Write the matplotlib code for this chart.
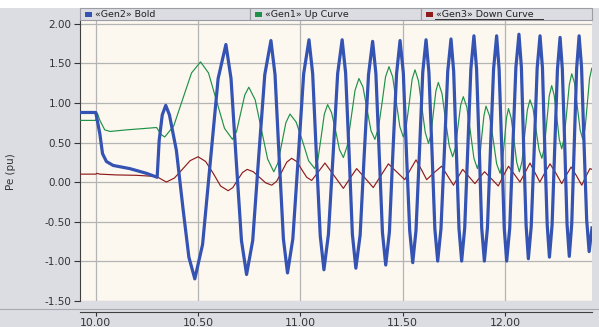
import matplotlib
matplotlib.use("Agg")
import matplotlib.pyplot as plt
from matplotlib.patches import Rectangle
from matplotlib.lines import Line2D

# series values (time in s, Pe in pu)
blue_t = [9.923, 10.00, 10.02, 10.033, 10.052, 10.085, 10.166, 10.248, 10.30, 10.31, 10.325, 10.342, 10.36, 10.394, 10.427, 10.455, 10.484,
          10.522, 10.56, 10.598, 10.636,
          10.661, 10.686, 10.712, 10.737,
          10.767, 10.796, 10.826, 10.856,
          10.876, 10.896, 10.917, 10.937,
          10.963, 10.99, 11.016, 11.042,
          11.06, 11.078, 11.097, 11.115,
          11.137, 11.16, 11.182, 11.204,
          11.221, 11.238, 11.254, 11.271,
          11.292, 11.312, 11.333, 11.353,
          11.369, 11.385, 11.401, 11.417,
          11.435, 11.452, 11.470, 11.487,
          11.503, 11.518, 11.534, 11.549,
          11.565, 11.582, 11.598, 11.614,
          11.628, 11.643, 11.657, 11.671,
          11.687, 11.704, 11.72, 11.736,
          11.749, 11.762, 11.775, 11.788,
          11.803, 11.818, 11.833, 11.848,
          11.861, 11.874, 11.886, 11.899,
          11.914, 11.929, 11.944, 11.959,
          11.971, 11.984, 11.996, 12.008,
          12.023, 12.038, 12.053, 12.068,
          12.08, 12.091, 12.103, 12.114,
          12.128, 12.143, 12.157, 12.171,
          12.183, 12.194, 12.206, 12.217,
          12.23, 12.243, 12.256, 12.269,
          12.28, 12.292, 12.303, 12.314,
          12.326, 12.338, 12.35, 12.362,
          12.374, 12.386, 12.399, 12.411,
          12.425]
blue_v = [0.88, 0.88, 0.61, 0.36, 0.26, 0.21, 0.17, 0.11, 0.06, 0.53, 0.85, 0.97, 0.85, 0.40, -0.35, -0.95, -1.225,
          -0.79, 0.26, 1.31, 1.74,
          1.31, 0.29, -0.74, -1.17,
          -0.74, 0.31, 1.36, 1.79,
          1.36, 0.32, -0.72, -1.15,
          -0.72, 0.33, 1.37, 1.80,
          1.37, 0.35, -0.68, -1.11,
          -0.66, 0.35, 1.37, 1.80,
          1.38, 0.36, -0.66, -1.09,
          -0.67, 0.35, 1.36, 1.78,
          1.37, 0.37, -0.64, -1.05,
          -0.63, 0.37, 1.37, 1.79,
          1.38, 0.39, -0.61, -1.02,
          -0.61, 0.39, 1.39, 1.80,
          1.39, 0.40, -0.59, -1.00,
          -0.59, 0.41, 1.40, 1.81,
          1.40, 0.41, -0.59, -1.00,
          -0.58, 0.43, 1.43, 1.85,
          1.43, 0.43, -0.58, -1.00,
          -0.58, 0.43, 1.43, 1.85,
          1.43, 0.43, -0.58, -1.00,
          -0.58, 0.44, 1.45, 1.87,
          1.45, 0.45, -0.55, -0.97,
          -0.56, 0.44, 1.44, 1.85,
          1.44, 0.45, -0.54, -0.95,
          -0.54, 0.44, 1.42, 1.83,
          1.43, 0.45, -0.53, -0.94,
          -0.53, 0.46, 1.44, 1.85,
          1.45, 0.49, -0.48, -0.88,
          -0.58]

green_t = [9.923, 10.00, 10.008, 10.02, 10.044, 10.07, 10.15, 10.25, 10.297, 10.32, 10.337,
           10.381, 10.425, 10.468, 10.512,
           10.551, 10.59, 10.629, 10.668,
           10.688, 10.708, 10.728, 10.748,
           10.779, 10.809, 10.84, 10.87,
           10.89, 10.91, 10.929, 10.949,
           10.979, 11.01, 11.04, 11.07,
           11.086, 11.102, 11.117, 11.133,
           11.152, 11.172, 11.191, 11.21,
           11.229, 11.248, 11.267, 11.286,
           11.306, 11.325, 11.345, 11.364,
           11.381, 11.399, 11.416, 11.433,
           11.451, 11.468, 11.486, 11.503,
           11.517, 11.532, 11.546, 11.56,
           11.577, 11.593, 11.61, 11.626,
           11.638, 11.65, 11.662, 11.674,
           11.692, 11.709, 11.727, 11.744,
           11.757, 11.77, 11.783, 11.796,
           11.813, 11.831, 11.848, 11.865,
           11.876, 11.886, 11.897, 11.907,
           11.924, 11.942, 11.959, 11.976,
           11.986, 11.997, 12.007, 12.017,
           12.03, 12.044, 12.057, 12.07,
           12.083, 12.096, 12.109, 12.122,
           12.137, 12.151, 12.166, 12.18,
           12.192, 12.204, 12.216, 12.228,
           12.24, 12.253, 12.265, 12.277,
           12.289, 12.302, 12.314, 12.326,
           12.34, 12.353, 12.367, 12.38,
           12.391, 12.402, 12.413, 12.424]
green_v = [0.78, 0.78, 0.87, 0.78, 0.66, 0.64, 0.66, 0.68, 0.69, 0.60, 0.57,
           0.71, 1.05, 1.38, 1.52,
           1.38, 1.03, 0.68, 0.54,
           0.64, 0.87, 1.10, 1.20,
           1.04, 0.67, 0.29, 0.13,
           0.24, 0.50, 0.75, 0.86,
           0.76, 0.52, 0.27, 0.17,
           0.29, 0.58, 0.86, 0.98,
           0.88, 0.65, 0.41, 0.31,
           0.46, 0.81, 1.16, 1.31,
           1.20, 0.93, 0.65, 0.54,
           0.68, 1.00, 1.33, 1.46,
           1.33, 1.02, 0.70, 0.57,
           0.70, 1.00, 1.30, 1.42,
           1.28, 0.96, 0.63, 0.49,
           0.60, 0.88, 1.15, 1.26,
           1.12, 0.79, 0.46, 0.32,
           0.43, 0.70, 0.97, 1.08,
           0.95, 0.63, 0.30, 0.17,
           0.29, 0.57, 0.84, 0.96,
           0.84, 0.54, 0.23, 0.11,
           0.23, 0.52, 0.81, 0.93,
           0.81, 0.53, 0.25, 0.13,
           0.26, 0.59, 0.91, 1.04,
           0.93, 0.67, 0.41, 0.30,
           0.43, 0.76, 1.09, 1.22,
           1.10, 0.82, 0.54, 0.42,
           0.56, 0.90, 1.23, 1.37,
           1.25, 0.96, 0.66, 0.54,
           0.67, 0.99, 1.31, 1.44]

red_t = [9.923, 10.00, 10.005, 10.02, 10.10, 10.20, 10.297, 10.345,
         10.384, 10.423, 10.461, 10.50,
         10.537, 10.574, 10.61, 10.647,
         10.67, 10.694, 10.717, 10.74,
         10.77, 10.80, 10.83, 10.86,
         10.884, 10.909, 10.933, 10.957,
         10.982, 11.006, 11.031, 11.055,
         11.088, 11.12, 11.165, 11.21, 11.243, 11.275, 11.316, 11.356,
         11.393, 11.43, 11.47, 11.51, 11.538, 11.565, 11.591, 11.617,
         11.654, 11.69, 11.719, 11.748, 11.77, 11.793, 11.823, 11.853,
         11.877, 11.90, 11.934, 11.967, 11.992, 12.017, 12.045, 12.073,
         12.098, 12.122, 12.146, 12.17, 12.195, 12.22, 12.249, 12.277,
         12.30, 12.323, 12.349, 12.375, 12.395, 12.415, 12.425]
red_v = [0.10, 0.10, 0.11, 0.10, 0.09, 0.085, 0.07, 0.00,
         0.05, 0.16, 0.27, 0.32,
         0.26, 0.11, -0.05, -0.11,
         -0.07, 0.03, 0.12, 0.16,
         0.13, 0.06, -0.01, -0.04,
         0.01, 0.13, 0.25, 0.30,
         0.26, 0.16, 0.06, 0.02,
         0.13, 0.24, 0.08, -0.08, 0.05, 0.17, 0.05, -0.07,
         0.08, 0.23, 0.13, 0.03, 0.16, 0.28, 0.16, 0.03,
         0.12, 0.20, 0.08, -0.04, 0.06, 0.16, 0.07, -0.02,
         0.06, 0.13, 0.04, -0.05, 0.08, 0.20, 0.10, 0.00,
         0.12, 0.24, 0.12, 0.00, 0.12, 0.23, 0.11, -0.02,
         0.09, 0.19, 0.08, -0.04, 0.07, 0.17, 0.16]

series_labels = ["\u00abGen2\u00bb Bold", "\u00abGen1\u00bb Up Curve", "\u00abGen3\u00bb Down Curve"]
series_colors = ["#3453b2", "#1f9148", "#8e1c1c"]

x_ticks = [10.0, 10.5, 11.0, 11.5, 12.0]
x_labels = ["10.00", "10.50", "11.00", "11.50", "12.00"]
y_ticks = [-1.5, -1.0, -0.5, 0.0, 0.5, 1.0, 1.5, 2.0]
y_labels = ["-1.50", "-1.00", "-0.50", "0.00", "0.50", "1.00", "1.50", "2.00"]

W, H = 599, 327
def fx(px):
    return px / W
def fy(py):
    return 1 - py / H

fig = plt.figure(figsize=(W / 100, H / 100), dpi=100, facecolor="white")
fig.patches.append(Rectangle((0, 0), 1, fy(8), transform=fig.transFigure,
                             facecolor="#dcdce3", edgecolor="none", zorder=-10))
# separator line above x axis strip
fig.lines.append(Line2D([0, 1], [fy(309), fy(309)], transform=fig.transFigure,
                        color="#a8a8b0", lw=0.8))

ax = fig.add_axes([fx(80), fy(301), fx(592) - fx(80), fy(20) - fy(301)])
ax.set_facecolor("#fcf8f0")

ax.plot(green_t, green_v, color=series_colors[1], lw=0.85, zorder=3)
ax.plot(red_t, red_v, color=series_colors[2], lw=0.85, zorder=3)
ax.plot(blue_t, blue_v, color=series_colors[0], lw=2.3, zorder=4,
        solid_joinstyle="round")

ax.set_xlim(9.923, 12.425)
ax.set_ylim(-1.505, 2.05)
ax.set_xticks(x_ticks)
ax.set_xticklabels(x_labels)
ax.set_yticks(y_ticks)
ax.set_yticklabels(y_labels)
ax.grid(True, color="#b4b4b4", lw=0.9)
ax.set_axisbelow(True)

for s in ["top", "right"]:
    ax.spines[s].set_visible(False)
ax.spines["left"].set_color("#404040")
ax.spines["bottom"].set_color("#404040")
ax.spines["bottom"].set_position(("outward", 8))
ax.tick_params(axis="y", direction="out", length=4, width=0.8, pad=2,
               labelsize=7.5, colors="#333333")
ax.tick_params(axis="x", direction="out", length=3, width=0.8, pad=1.5,
               labelsize=7.8, colors="#333333")

fig.text(fx(11), fy(172), "Pe (pu)", rotation=90, ha="center", va="center",
         fontsize=7.5, color="#333333")

# legend header boxes
box_edges = [80, 250, 421, 592]
for i in range(3):
    x0, x1 = box_edges[i], box_edges[i + 1]
    fig.patches.append(Rectangle((fx(x0), fy(20)), fx(x1) - fx(x0), fy(8) - fy(20),
                                 transform=fig.transFigure, facecolor="#dcdce3",
                                 edgecolor="#9c9ca4", lw=0.8, zorder=5))
    fig.patches.append(Rectangle((fx(x0 + 5), fy(17)), fx(7), fy(12) - fy(17),
                                 transform=fig.transFigure, facecolor=series_colors[i],
                                 edgecolor="none", zorder=6))
    fig.text(fx(x0 + 15), fy(14.5), series_labels[i], ha="left", va="center",
             fontsize=6.8, color="#222222", zorder=7)
fig.lines.append(Line2D([fx(435), fx(543)], [fy(19), fy(19)], transform=fig.transFigure,
                        color="#333333", lw=0.7, zorder=7))

fig.savefig("out.png", dpi=100, facecolor=fig.get_facecolor())
